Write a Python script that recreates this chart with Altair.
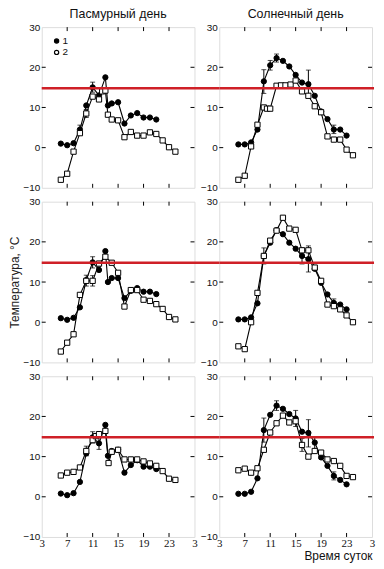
import altair as alt
import pandas as pd

# ---------------- data ----------------
CLOUDY_H1 = [6, 7, 8, 9, 10, 11, 12, 13, 13.4, 14, 15, 16, 17, 18, 19, 20, 21]
SUNNY_H1 = [6, 7, 8, 9, 10, 11, 12, 13, 14, 15, 16, 17, 18, 19, 20, 21, 22, 23]
SUNNY_H2 = [6, 7, 8, 9, 10, 11, 12, 13, 14, 15, 16, 17, 18, 19, 20, 21, 22, 23, 24]

TL_V1 = [1, 0.6, 1.1, 4.5, 10.5, 15, 13, 17.5, 10.5, 11, 11.3, 6, 8, 8.6, 7.5, 7.5, 7]
TL_H2 = [6, 7, 8, 9, 10, 11, 12, 12.5, 13, 13.4, 14, 15, 16, 17, 18, 19, 20, 21, 22, 23, 24]
TL_V2 = [-8, -6.5, -1, 3.6, 8.5, 12.7, 12, 14, 14.2, 8.2, 7, 6.8, 2.6, 3.9, 3, 3, 3.8, 3.4, 1.8, 0.1, -1]

TR_V1 = [0.8, 0.8, 1.3, 4.5, 16.5, 20.5, 22.3, 21.6, 20.2, 18.1, 16.2, 15.8, 12.9, 9, 7.1, 4.5, 4.5, 3]
TR_H2 = [6, 7, 8, 9, 10, 10.5, 11, 12, 12.7, 13.4, 14.2, 15, 16, 17, 18, 19, 20, 21, 22, 23, 24]
TR_V2 = [-8, -7, 0.3, 5.7, 10, 9.7, 9.7, 15.4, 15.5, 15.5, 15.7, 16.7, 14, 12.9, 10.3, 8.8, 2.8, 2, 2, -0.5, -1.9]

ML_V1 = [1, 0.6, 1.1, 3.7, 10.5, 14.9, 13, 17.7, 10, 11, 11, 6, 7.8, 8.5, 7.6, 7.6, 7]
ML_H2 = [6, 7, 8, 9, 10, 11, 12, 13, 14, 15, 16, 17, 18, 19, 20, 21, 22, 23, 24]
ML_V2 = [-7.3, -5.1, -3, 6.8, 10.3, 10.3, 14.6, 16.3, 14.8, 12.3, 3.9, 8, 8, 5.6, 5.3, 4.5, 3.3, 1.3, 0.7]

MR_V1 = [0.7, 0.7, 1.2, 4.7, 16.5, 19.8, 22.9, 21.9, 19.8, 18.3, 16.5, 15.7, 13.3, 9.8, 6.9, 4.8, 4.4, 3.2]
MR_V2 = [-6, -6.7, 0, 7.3, 16.5, 20.3, 22.8, 26, 23.3, 23, 17.9, 17.9, 13.6, 10.3, 4.4, 4, 3.2, 1.7, 0]

BL_V1 = [0.8, 0.4, 0.9, 3.7, 10.8, 14.8, 13.3, 17.9, 10.2, 11.4, 11.7, 6, 7.9, 9.1, 7.5, 7.5, 6.9]
BL_H2 = [6, 7, 8, 9, 10, 11, 11.5, 12, 13, 13.5, 14, 15, 16, 17, 18, 19, 20, 21, 22, 23, 24]
BL_V2 = [5.3, 6, 6.2, 7.3, 11.4, 14.1, 15.1, 15.6, 16.4, 8.4, 11.2, 11.7, 9.3, 9.3, 9.3, 8.8, 8.3, 7.7, 6.4, 4.5, 4.2]

BR_V1 = [0.75, 0.75, 1.25, 4.6, 16.6, 20.4, 22.7, 21.9, 20.6, 19.5, 16.2, 15.9, 13.5, 9.8, 7.7, 5.2, 4.2, 3.1]
BR_V2 = [6.6, 7, 6, 7.1, 11.7, 16, 18.3, 20.2, 18.5, 18.8, 12.9, 10, 11.4, 11, 9.3, 8.9, 7.7, 5.2, 4.9]

# error bars: (series, hour, low, high)
TL_ERR = [("1", 11, 13.8, 16.3), ("1", 9, 3.5, 5.6), ("2", 10, 7.5, 9.5)]
TR_ERR = [("1", 10, 13.5, 19.4), ("1", 11, 19.3, 21.7), ("1", 12, 21.3, 23.3),
          ("1", 17, 13.0, 19.3), ("1", 21, 3.5, 5.6)]
ML_ERR = [("1", 11, 13.5, 16.3), ("2", 10, 9.0, 11.7), ("2", 11, 9.0, 11.6)]
MR_ERR = [("2", 10, 14.5, 18.5), ("1", 16, 14.5, 18.5), ("1", 17, 12.5, 19.0),
          ("1", 21, 3.8, 5.8)]
BL_ERR = [("1", 11, 13.4, 16.2), ("1", 12, 11.8, 14.8), ("2", 10, 10.2, 12.6)]
BR_ERR = [("1", 10, 13.6, 19.6), ("1", 12, 21.5, 23.9), ("1", 15, 17.5, 21.5),
          ("1", 17, 12.4, 19.2), ("1", 18, 12.0, 15.0), ("2", 16, 11.3, 14.5),
          ("1", 21, 4.2, 6.2)]

THRESHOLD = 14.8
X_TICKS = [7, 11, 15, 19, 23]
Y_TICKS = [0, 10, 20]
X_LABELS = [3, 7, 11, 15, 19, 23, 27]
Y_LABELS = [-10, 0, 10, 20, 30]
SERIES = ["1", "2"]

COL_TITLES = ["Пасмурный день", "Солнечный день"]
Y_TITLE = "Температура, °С"
X_TITLE = "Время суток"

# ---------------- layout ----------------
W, H = 154, 162
GAP = 25
VGAP = 14
RED = "#cf2027"
SANS = "Liberation Sans"
SERIF = "Liberation Serif"
XS = alt.Scale(domain=[3, 27], nice=False, zero=False)
YS = alt.Scale(domain=[-10, 30], nice=False, zero=False)
SHAPES = alt.Scale(domain=SERIES, range=["circle", "square"])
FILLS = alt.Scale(domain=SERIES, range=["black", "white"])


def legend_layers():
    out = []
    for i, (s, fil) in enumerate(zip(SERIES, ["black", "white"])):
        d = pd.DataFrame({"series": [s]})
        yy = 14 + 11.5 * i
        out.append(alt.Chart(d).mark_point(shape="circle", fill=fil, stroke="black",
                                           strokeWidth=1.2, opacity=1, size=18).encode(
            x=alt.value(15), y=alt.value(yy)))
        out.append(alt.Chart(d).mark_text(align="left", baseline="middle", font=SANS,
                                          fontSize=10, fill="#111").encode(
            x=alt.value(21), y=alt.value(yy), text="series:N"))
    return out


def panel(h1, v1, h2, v2, errs, title=None, ytitle=None, xaxis=False,
          legend=False, right=False):
    df = pd.concat([
        pd.DataFrame({"hour": h1, "temp": v1, "series": SERIES[0]}),
        pd.DataFrame({"hour": h2, "temp": v2, "series": SERIES[1]}),
    ])
    edf = pd.DataFrame(errs, columns=["series", "hour", "temp", "hi"])
    hdf = pd.DataFrame({"hour": edf["hour"], "temp": edf["hi"]})

    if xaxis:
        xax = alt.Axis(values=X_LABELS, ticks=False, domain=False, grid=False,
                       labelExpr="datum.value > 24 ? datum.value - 24 : datum.value",
                       labelFont=SERIF, labelFontSize=11, labelPadding=1,
                       labelColor="#111", labelFlush=False,
                       title=X_TITLE if right else None,
                       titleAnchor="end", titleFont=SANS, titleFontSize=12,
                       titleFontWeight="normal", titleColor="#111", titlePadding=2)
    else:
        xax = None
    yax = alt.Axis(values=Y_LABELS, ticks=False, domain=False, grid=False,
                   labelFont=SANS, labelFontSize=10, labelPadding=2,
                   labelColor="#111", labelFlush=False,
                   title=ytitle, titleFont=SANS, titleFontSize=12,
                   titleFontWeight="normal", titleColor="#222", titlePadding=1)

    x = alt.X("hour:Q", scale=XS, axis=xax)
    y = alt.Y("temp:Q", scale=YS, axis=yax)

    base = alt.Chart(df)
    lines = base.mark_line(color="black", strokeWidth=1.1).encode(
        x=x, y=y, detail="series:N")
    pts = base.mark_point(filled=True, stroke="black", strokeWidth=1, opacity=1,
                          size=28).encode(
        x=x, y=y,
        shape=alt.Shape("series:N", scale=SHAPES, legend=None),
        fill=alt.Fill("series:N", scale=FILLS, legend=None),
    )
    ebar = alt.Chart(edf).mark_rule(color="black", strokeWidth=1).encode(
        x=x, y=y, y2="hi:Q")
    ecap_lo = alt.Chart(edf).mark_tick(color="black", orient="horizontal", size=5,
                                       thickness=1).encode(x=x, y=y)
    ecap_hi = alt.Chart(hdf).mark_tick(color="black", orient="horizontal", size=5,
                                       thickness=1).encode(x=x, y=y)

    tdf = pd.DataFrame({"hour": X_TICKS})
    ydf = pd.DataFrame({"temp": Y_TICKS})
    tb = alt.Chart(tdf).mark_rule(color="black", strokeWidth=1).encode(
        x=x, y=alt.value(H), y2=alt.value(H - 4))
    tt = alt.Chart(tdf).mark_rule(color="black", strokeWidth=1).encode(
        x=x, y=alt.value(0), y2=alt.value(4))
    tl = alt.Chart(ydf).mark_rule(color="black", strokeWidth=1).encode(
        y=y, x=alt.value(0), x2=alt.value(4))
    tr = alt.Chart(ydf).mark_rule(color="black", strokeWidth=1).encode(
        y=y, x=alt.value(W - 4), x2=alt.value(W))

    red = alt.Chart(pd.DataFrame({"temp": [THRESHOLD]})).mark_rule(
        color=RED, strokeWidth=2.5).encode(
        y=y, x=alt.value(0), x2=alt.value(W + (2 if right else GAP)))

    layers = [tb, tt, tl, tr, lines, ebar, ecap_lo, ecap_hi, pts, red]
    if legend:
        layers += legend_layers()
    ch = alt.layer(*layers)
    props = dict(width=W, height=H)
    if title:
        props["title"] = alt.TitleParams(title, font=SANS, fontSize=12.5,
                                         fontWeight="normal", color="#111",
                                         offset=2, anchor="middle", frame="group")
    return ch.properties(**props)


tl_c = panel(CLOUDY_H1, TL_V1, TL_H2, TL_V2, TL_ERR, title=COL_TITLES[0], legend=True)
tr_c = panel(SUNNY_H1, TR_V1, TR_H2, TR_V2, TR_ERR, title=COL_TITLES[1], right=True)
ml_c = panel(CLOUDY_H1, ML_V1, ML_H2, ML_V2, ML_ERR, ytitle=Y_TITLE)
mr_c = panel(SUNNY_H1, MR_V1, SUNNY_H2, MR_V2, MR_ERR, right=True)
bl_c = panel(CLOUDY_H1, BL_V1, BL_H2, BL_V2, BL_ERR, xaxis=True)
br_c = panel(SUNNY_H1, BR_V1, SUNNY_H2, BR_V2, BR_ERR, xaxis=True, right=True)

chart = alt.concat(tl_c, tr_c, ml_c, mr_c, bl_c, br_c, columns=2,
                   spacing=alt.RowColnumber(row=VGAP, column=GAP),
                   bounds="flush", align="all").properties(
    padding={"top": -3, "left": 0, "right": 0, "bottom": 0}
).configure_view(
    stroke="black", strokeWidth=1
).configure(background="white")

chart.save("out.html", embed_options={"renderer": "svg", "actions": False})
